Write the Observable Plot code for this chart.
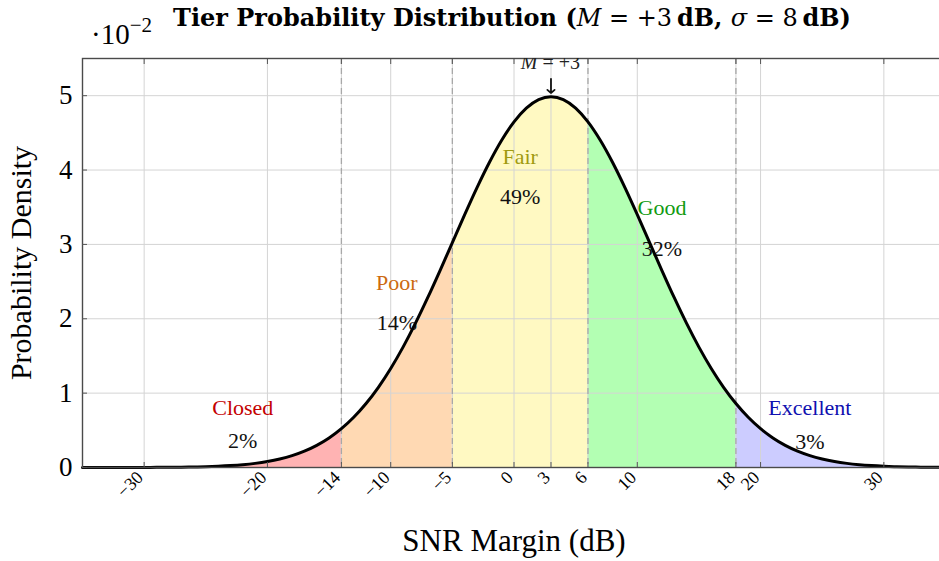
<!DOCTYPE html>
<html><head><meta charset="utf-8">
<script src="https://cdn.jsdelivr.net/npm/d3@7"></script>
<script src="https://cdn.jsdelivr.net/npm/@observablehq/plot@0.6"></script>
<style>
html,body{margin:0;padding:0;background:#fff;overflow:hidden;}
#chart{width:939px;height:561px;overflow:hidden;position:relative;}
#chart svg{max-width:none !important;}
</style></head><body><div id="chart"></div>
<script>
// SNR margin samples (dB) and probability density (units of 10^-2)
const snrValues = [-35,-34,-33,-32,-31,-30,-29,-28,-27,-26,-25,-24,-23,-22,-21,-20,-19,-18,-17,-16,-15,-14,-13,-12,-11,-10,-9,-8,-7,-6,-5,-4,-3,-2,-1,0,1,2,3,4,5,6,7,8,9,10,11,12,13,14,15,16,17,18,19,20,21,22,23,24,25,26,27,28,29,30,31,32,33,34,35];
const density = [0.0001,0.0001,0.0002,0.0003,0.0006,0.0010,0.0017,0.0027,0.0044,0.0070,0.0109,0.0168,0.0254,0.0377,0.0554,0.0800,0.1137,0.1590,0.2191,0.2972,0.3967,0.5215,0.6749,0.8598,1.0785,1.3318,1.6190,1.9377,2.2831,2.6485,3.0246,3.4006,3.7642,4.1020,4.4008,4.6482,4.8333,4.9480,4.9868,4.9480,4.8333,4.6482,4.4008,4.1020,3.7642,3.4006,3.0246,2.6485,2.2831,1.9377,1.6190,1.3318,1.0785,0.8598,0.6749,0.5215,0.3967,0.2972,0.2191,0.1590,0.1137,0.0800,0.0554,0.0377,0.0254,0.0168,0.0109,0.0070,0.0044,0.0027,0.0017];

const tierNames = ["Closed","Poor","Fair","Good","Excellent"];
const tierLower = [-35,-14,-5,6,18];
const tierUpper = [-14,-5,6,18,35];
const tierShares = [2,14,49,32,3];
const tierLabelX = [-22,-9.5,0.5,12,24];
const tierLabelY = [0.80,2.48,4.18,3.49,0.80];
const tierShareY = [0.36,1.94,3.64,2.94,0.35];
const boundaries = [-14,-5,6,18];
const meanSNR = 3;
const xTicks = [-30,-20,-14,-10,-5,0,3,6,10,18,20,30];
const yTicks = [0,1,2,3,4,5];

// styles
const tierFill = {Closed:"#ffb3b3", Poor:"#ffd9b3", Fair:"#fff9c2", Good:"#b3ffb3", Excellent:"#ccccff"};
const tierInk = {Closed:"#c40000", Poor:"#cc6a10", Fair:"#a09a10", Good:"#109a10", Excellent:"#1010b0"};
const FONT = "'Liberation Serif', 'Times New Roman', serif";
const TITLE_FONT = "'DejaVu Serif', serif";

const curvePts = snrValues.map((x,i)=>({x, y: density[i]}));
const areaPts = [];
tierNames.forEach((t,k)=>{
  curvePts.forEach(p=>{ if (p.x >= tierLower[k] && p.x <= tierUpper[k]) areaPts.push({...p, tier:t}); });
});
const labels = tierNames.map((t,k)=>({tier:t, x:tierLabelX[k], y:tierLabelY[k], sy:tierShareY[k], share:tierShares[k]+"%"}));
const peak = d3.max(density);
const fmt = d => d < 0 ? "\u2212" + (-d) : String(d);

const plot = Plot.plot({
  width: 945, height: 561,
  marginTop: 58, marginLeft: 82, marginBottom: 94, marginRight: 0,
  style: {fontFamily: FONT, background: "#fff", overflow: "visible", maxWidth: "none"},
  x: {domain: [-35, 35]},
  y: {domain: [0, 5.5]},
  color: {type: "identity"},
  marks: [
    Plot.area(areaPts, {x1:"x", y1: () => 0, y2:"y", z:"tier", fill: d => tierFill[d.tier], curve:"monotone-x"}),
    Plot.gridX({ticks: xTicks, stroke:"#d4d4d4", strokeOpacity:1, strokeWidth:1}),
    Plot.gridY({ticks: yTicks, stroke:"#d4d4d4", strokeOpacity:1, strokeWidth:1}),
    Plot.ruleX(boundaries, {stroke:"#a8a8a8", strokeWidth:1.3, strokeDasharray:"6,4"}),
    Plot.text(labels, {x:"x", y:"y", text:"tier", fill: d => tierInk[d.tier], fontSize:22, lineAnchor:"middle"}),
    Plot.text(labels, {x:"x", y:"sy", text:"share", fill:"#111", fontSize:22, lineAnchor:"middle"}),
    Plot.line(curvePts, {x:"x", y:"y", stroke:"#000", strokeWidth:3, curve:"monotone-x"}),
    Plot.frame({stroke:"#4a4a4a", strokeWidth:1.4}),
    Plot.axisX({anchor:"bottom", ticks:xTicks, tickSize:-5, tickFormat:()=>"", stroke:"#555", label:null}),
    Plot.axisX({anchor:"top", ticks:xTicks, tickSize:-5, tickFormat:()=>"", stroke:"#555", label:null}),
    Plot.axisY({anchor:"left", ticks:yTicks, tickSize:-5, tickFormat:()=>"", stroke:"#555", label:null}),
    Plot.axisY({anchor:"right", ticks:yTicks, tickSize:-5, tickFormat:()=>"", stroke:"#555", label:null}),
    Plot.axisX({anchor:"bottom", ticks:xTicks, tickSize:0, tickPadding:7, dx:-4, tickRotate:-45, tickFormat: fmt, fontSize:18, label:null}),
    Plot.axisY({anchor:"left", ticks:yTicks, tickSize:0, tickPadding:10, tickFormat: d => String(d), fontSize:27, label:null}),
    Plot.arrow([meanSNR], {x1:d=>d, x2:d=>d, y1: () => peak + 0.24, y2: () => peak + 0.05, stroke:"#111", strokeWidth:1.8, headLength:11, headAngle:100}),
    Plot.text(["SNR Margin (dB)"], {frameAnchor:"bottom", dy:74, fontSize:31, lineAnchor:"middle", textAnchor:"middle"}),
    Plot.text(["Probability Density"], {frameAnchor:"left", dx:-61, rotate:-90, fontSize:30, lineAnchor:"middle", textAnchor:"middle"})
  ]
});
document.getElementById("chart").appendChild(plot);

const svg = d3.select(plot);
const xs = plot.scale("x"), ys = plot.scale("y");
// mean annotation, clipped to the axis box
const cid = "meanclip";
svg.append("clipPath").attr("id", cid).append("rect")
  .attr("x", 82).attr("y", 58).attr("width", 863).attr("height", 409);
const mt = svg.append("text").attr("clip-path", `url(#${cid})`)
  .attr("x", xs.apply(meanSNR)).attr("y", ys.apply(peak + 0.37))
  .attr("text-anchor", "middle").attr("font-family", FONT).attr("font-size", 20).attr("fill", "#222");
mt.append("tspan").attr("font-style","italic").text("M");
mt.append("tspan").text(" = +" + meanSNR);

// title
const tt = svg.append("text").attr("x", 512).attr("y", 26).attr("text-anchor","middle")
  .attr("font-family", TITLE_FONT).attr("font-size", 24).attr("fill","#000");
tt.append("tspan").attr("font-weight","bold").text("Tier Probability Distribution (");
tt.append("tspan").attr("font-style","italic").text("M");
tt.append("tspan").text(" = +3\u2009");
tt.append("tspan").attr("font-weight","bold").text("dB, ");
tt.append("tspan").attr("font-style","italic").text("\u03c3");
tt.append("tspan").text(" = 8\u2009");
tt.append("tspan").attr("font-weight","bold").text("dB)");

// multiplier
const mu = svg.append("text").attr("x", 91).attr("y", 44).attr("text-anchor","start")
  .attr("font-family", FONT).attr("font-size", 29).attr("fill","#000");
mu.append("tspan").text("\u00b710");
mu.append("tspan").attr("font-size", 21).attr("dy", -12).text("\u22122");
</script></body></html>
